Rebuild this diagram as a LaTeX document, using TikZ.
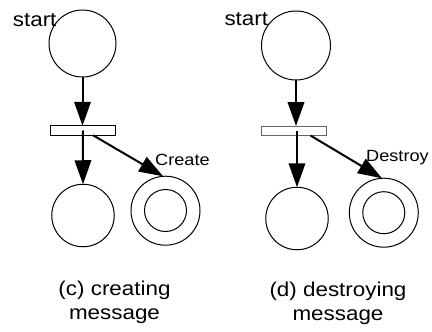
\documentclass[tikz,border=0pt]{standalone}
\usepackage{fontspec}
\usepackage{graphicx}
\setmainfont{Liberation Sans}
\usetikzlibrary{arrows.meta}
\newcommand{\widetext}[1]{\scalebox{1.12}[1]{#1}}
\begin{document}
\begin{tikzpicture}[x=1pt,y=-1pt,
  place/.style={circle,draw,line width=1pt,inner sep=0pt,outer sep=0pt},
  trans/.style={rectangle,draw,line width=1pt,inner sep=0pt,outer sep=0pt,minimum width=65pt,minimum height=9.5pt},
  arc/.style={line width=2pt,-{Triangle[length=24pt,width=16.5pt]}},
  lbl/.style={inner sep=0pt,anchor=base west,font=\fontsize{16.2}{19}\selectfont},
  startlbl/.style={inner sep=0pt,anchor=base west,font=\fontsize{20}{24}\selectfont},
  caption/.style={inner sep=0pt,anchor=base,font=\fontsize{20}{24}\selectfont}]
\useasboundingbox (0,0) rectangle (432,332);
% ---- left panel (c)
\node[place,minimum size=67pt] (s1) at (82.5,43.5) {};
\node[trans] (t1) at (82.8,130.5) {};
\node[place,minimum size=62.5pt] (p1) at (83,215.5) {};
\node[place,minimum size=69pt] (d1) at (165.5,210.7) {};
\node[place,minimum size=42pt] (d1in) at (165.5,210.5) {};
\node[startlbl] (st1) at (12.7,26.5) {\widetext{start}};
\node[lbl] (cr) at (155,165) {\widetext{Create}};
\node[caption] (cap1) at (114.5,295) {\widetext{\begin{tabular}[t]{@{}c@{}}(c) creating\\message\end{tabular}}};
\draw[arc] (s1.south) -- (s1.south |- t1.north);
\draw[arc] (t1.center) -- (p1.north);
\draw[arc] (t1.-25) -- (d1.94);
% ---- right panel (d)
\node[place,minimum size=69pt] (s2) at (296,45.5) {};
\node[trans,draw=black!60,minimum width=65pt] (t2) at (294,130.8) {};
\node[place,minimum size=62.5pt] (p2) at (297,218.5) {};
\node[place,minimum size=69pt] (d2) at (383.8,212.7) {};
\node[place,minimum size=42pt] (d2in) at (383.8,212.7) {};
\node[startlbl] (st2) at (224.3,25.5) {\widetext{start}};
\node[lbl] (de) at (366,161.7) {\widetext{Destroy}};
\node[caption] (cap2) at (338,296) {\widetext{\begin{tabular}[t]{@{}c@{}}(d) destroying\\message\end{tabular}}};
\draw[arc] (s2.south) -- (s2.south |- t2.north);
\draw[arc] (t2.center -| p2.north) -- (p2.north);
\draw[arc] (t2.-16) -- (d2.93);
\end{tikzpicture}
\end{document}
